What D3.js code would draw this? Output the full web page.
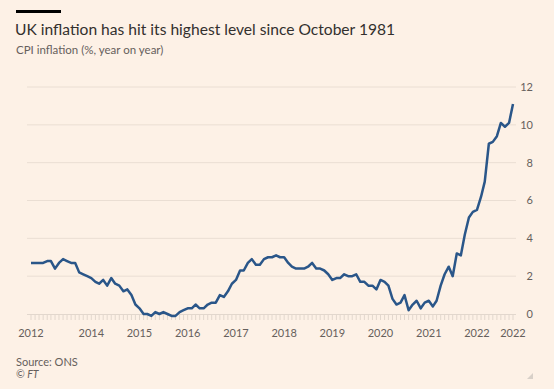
<!DOCTYPE html>
<html>
<head>
  <title>UK inflation</title>
  <style type="text/css">
    body { margin: 0; background: #fdf1e6; }
    svg { display: block; }
    text { font-family: Lato, "Open Sans", sans-serif; }
  </style>
</head>
<body>

<div id="chart"></div>

<script src="https://d3js.org/d3.v7.min.js"></script>
<script type="text/javascript">
// monthly CPI, Oct 2012 .. Oct 2022
var startMonth = [2012, 9];
var cpi2012 = [2.7, 2.7, 2.7];
var cpi2013 = [2.7, 2.8, 2.8, 2.4, 2.7, 2.9, 2.8, 2.7, 2.7, 2.2, 2.1, 2.0];
var cpi2014 = [1.9, 1.7, 1.6, 1.8, 1.5, 1.9, 1.6, 1.5, 1.2, 1.3, 1.0, 0.5];
var cpi2015 = [0.3, 0.0, 0.0, -0.1, 0.1, 0.0, 0.1, 0.0, -0.1, -0.1, 0.1, 0.2];
var cpi2016 = [0.3, 0.3, 0.5, 0.3, 0.3, 0.5, 0.6, 0.6, 1.0, 0.9, 1.2, 1.6];
var cpi2017 = [1.8, 2.3, 2.3, 2.7, 2.9, 2.6, 2.6, 2.9, 3.0, 3.0, 3.1, 3.0];
var cpi2018 = [3.0, 2.7, 2.5, 2.4, 2.4, 2.4, 2.5, 2.7, 2.4, 2.4, 2.3, 2.1];
var cpi2019 = [1.8, 1.9, 1.9, 2.1, 2.0, 2.0, 2.1, 1.7, 1.7, 1.5, 1.5, 1.3];
var cpi2020 = [1.8, 1.7, 1.5, 0.8, 0.5, 0.6, 1.0, 0.2, 0.5, 0.7, 0.3, 0.6];
var cpi2021 = [0.7, 0.4, 0.7, 1.5, 2.1, 2.5, 2.0, 3.2, 3.1, 4.2, 5.1, 5.4];
var cpi2022 = [5.5, 6.2, 7.0, 9.0, 9.1, 9.4, 10.1, 9.9, 10.1, 11.1];

// x tick labels sit on these months
var tickDates = [[2012, 9], [2014, 0], [2015, 0], [2016, 0], [2017, 0], [2018, 0],
                 [2019, 0], [2020, 0], [2021, 0], [2022, 0], [2022, 9]];
var yTicks = [0, 2, 4, 6, 8, 10, 12];

var values = [].concat(cpi2012, cpi2013, cpi2014, cpi2015, cpi2016, cpi2017,
                       cpi2018, cpi2019, cpi2020, cpi2021, cpi2022);
var data = values.map((v, i) => ({date: new Date(startMonth[0], startMonth[1] + i, 1), value: v}));

var width = 554, height = 389;

var svg = d3.select("#chart")
  .append("svg")
  .attr("width", width)
  .attr("height", height);

svg.append("rect")
  .attr("width", width)
  .attr("height", height)
  .attr("fill", "#fdf1e6");

var x = d3.scaleTime()
  .domain(d3.extent(data, d => d.date))
  .range([31, 513]);
var y = d3.scaleLinear()
  .domain([0, 12])
  .range([314, 87]);

// header
svg.append("rect")
  .attr("x", 16).attr("y", 10)
  .attr("width", 45).attr("height", 3)
  .attr("fill", "#000");

svg.append("text")
  .attr("x", 15).attr("y", 35)
  .style("font-size", "15.6px")
  .style("fill", "#33302e")
  .text("UK inflation has hit its highest level since October 1981");

svg.append("text")
  .attr("x", 16).attr("y", 54)
  .style("font-size", "11.5px")
  .style("fill", "#66605c")
  .text("CPI inflation (%, year on year)");

// gridlines
svg.append("g")
  .selectAll("line")
  .data(yTicks.filter(d => d > 0))
  .enter()
  .append("line")
  .attr("x1", 27).attr("x2", 516)
  .attr("y1", d => y(d)).attr("y2", d => y(d))
  .attr("stroke", "#eaded3")
  .attr("stroke-width", 1);

// baseline with monthly ticks
svg.append("line")
  .attr("x1", 27).attr("x2", 516)
  .attr("y1", y(0) + 0.5).attr("y2", y(0) + 0.5)
  .attr("stroke", "#e2d7cd");

svg.append("g")
  .selectAll("line")
  .data(data)
  .enter()
  .append("line")
  .attr("x1", d => x(d.date)).attr("x2", d => x(d.date))
  .attr("y1", y(0)).attr("y2", y(0) + 6)
  .attr("stroke", "#e2d7cd")
  .attr("stroke-width", 1);

// y labels
svg.append("g")
  .selectAll("text")
  .data(yTicks)
  .enter()
  .append("text")
  .attr("x", 533)
  .attr("y", d => y(d))
  .attr("dy", "0.35em")
  .attr("text-anchor", "end")
  .style("font-size", "11px")
  .style("fill", "#66605c")
  .text(d => d);

// x labels
svg.append("g")
  .selectAll("text")
  .data(tickDates)
  .enter()
  .append("text")
  .attr("x", d => x(new Date(d[0], d[1], 1)))
  .attr("y", 337)
  .attr("text-anchor", "middle")
  .style("font-size", "11px")
  .style("fill", "#66605c")
  .text(d => d[0]);

// line
var line = d3.line()
  .x(d => x(d.date))
  .y(d => y(d.value));

svg.append("path")
  .datum(data)
  .attr("d", line)
  .attr("fill", "none")
  .attr("stroke", "#2a5689")
  .attr("stroke-width", 2.5)
  .attr("stroke-linejoin", "round");

// footer
svg.append("text")
  .attr("x", 16).attr("y", 366)
  .style("font-size", "11px")
  .style("fill", "#66605c")
  .text("Source: ONS");

svg.append("text")
  .attr("x", 16).attr("y", 378)
  .style("font-size", "10.5px")
  .style("font-style", "italic")
  .style("fill", "#66605c")
  .text("\u00a9 FT");

svg.append("path")
  .attr("d", "M533,373 L533,379 L527,379 Z")
  .attr("fill", "#d8d0c8");
</script>
</body>
</html>
